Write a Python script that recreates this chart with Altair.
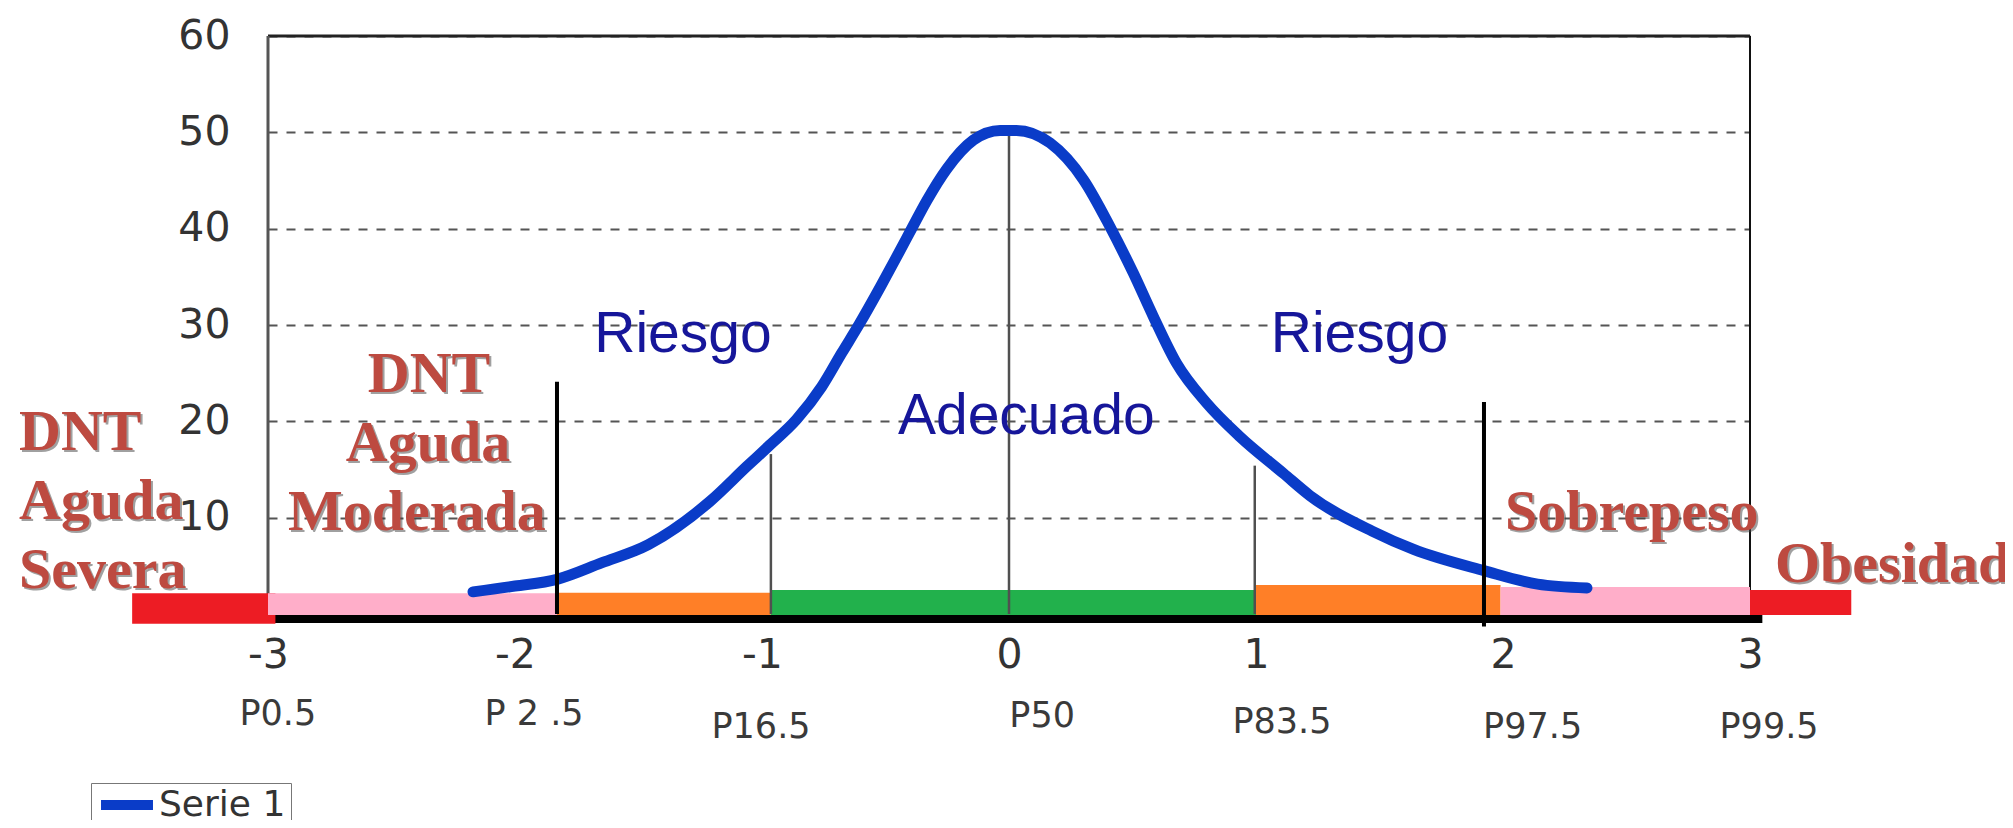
import altair as alt
import pandas as pd

# ---------------- data ----------------
z_ticks = [-3, -2, -1, 0, 1, 2, 3]
y_ticks = [10, 20, 30, 40, 50, 60]

# curve
curve_z = [-2.17, -2.0, -1.83, -1.65, -1.46, -1.21, -1.062, -0.974, -0.86, -0.758,
           -0.677, -0.606, -0.52, -0.448, -0.394, -0.333, -0.252, -0.144, -0.036, 0.03,
           0.166, 0.301, 0.409, 0.503, 0.584, 0.679, 0.80, 0.935, 1.111, 1.218,
           1.47, 1.638, 1.923, 2.14, 2.34]
curve_y = [2.3, 2.9, 3.6, 5.3, 7.2, 11.7, 15.3, 17.4, 20.2, 23.6,
           27.1, 30.1, 34.0, 37.4, 40.0, 42.9, 46.2, 49.2, 50.2, 50.2,
           48.9, 45.1, 40.2, 35.4, 30.9, 26.0, 21.9, 18.4, 14.6, 12.3,
           8.6, 6.7, 4.5, 3.1, 2.7]

# coloured zones along the axis
zone_names = ["DNT Aguda Severa (izq)", "DNT Aguda Moderada", "Riesgo (izq)", "Adecuado",
              "Riesgo (der)", "Sobrepeso", "Obesidad"]
zone_start = [-3.55, -3.0, -1.83, -0.965, 1.0, 1.99, 3.0]
zone_end = [-2.97, -1.83, -0.965, 1.0, 1.99, 3.0, 3.41]
zone_low = [-1.0, -0.1, -0.1, -0.1, -0.1, -0.1, -0.1]
zone_high = [2.15, 2.15, 2.2, 2.5, 3.0, 2.8, 2.5]
zone_colors = ["#ED1C24", "#FFAEC9", "#FF7F27", "#22B14C", "#FF7F27", "#FFAEC9", "#ED1C24"]

# cut-off lines
thin_z = [-0.964, 0.0, 0.995]
thin_top = [16.6, 49.8, 15.4]
thick_z = [-1.83, 1.923]
thick_low = [0.0, -1.3]
thick_top = [24.1, 22.0]

# percentile labels under the axis
pct_labels = ["P0.5", "P 2 .5", "P16.5", "P50", "P83.5", "P97.5", "P99.5"]
pct_z = [-2.96, -1.923, -1.004, 0.134, 1.105, 2.12, 3.077]
pct_y = [-11.5, -11.5, -12.9, -11.7, -12.35, -12.9, -12.9]

# blue annotations
blue_text = ["Riesgo", "Riesgo", "Adecuado"]
blue_z = [-1.32, 1.419, 0.07]
blue_y = [27.2, 27.2, 18.65]

# red serif annotations, left aligned
red_left_text = ["DNT", "Aguda", "Severa", "Sobrepeso", "Obesidad"]
red_left_z = [-4.008, -4.008, -4.008, 2.008, 3.101]
red_left_y = [17.0, 9.86, 2.7, 8.72, 3.32]

# red serif annotations, centred
red_c_text = ["DNT", "Aguda", "Moderada"]
red_c_z = [-2.348, -2.352, -2.397]
red_c_y = [23.05, 15.88, 8.72]

# frame
frame_top = [60]
frame_sides = [-3, 3]

serie_name = ["Serie 1"]

# ---------------- chart ----------------
xscale = alt.Scale(domain=[-3, 3], nice=False, zero=False)
yscale = alt.Scale(domain=[0, 60], nice=False, zero=False)
xaxis = alt.Axis(values=z_ticks, title=None, domain=False, ticks=False, grid=False,
                 labelFont="DejaVu Sans", labelFontSize=41, labelColor="#333333",
                 labelPadding=21, labelFlush=False, labelExpr="'' + datum.value")
yaxis = alt.Axis(values=y_ticks, title=None, domain=False, ticks=False, grid=True,
                 gridDash=[9, 9], gridColor="#555555", gridWidth=2,
                 labelFont="DejaVu Sans", labelFontSize=41, labelColor="#333333",
                 labelPadding=38, labelFlush=False)


def X(field, **kw):
    return alt.X(field, type="quantitative", scale=xscale, axis=xaxis, **kw)


def Y(field, **kw):
    return alt.Y(field, type="quantitative", scale=yscale, axis=yaxis, **kw)


curve_df = pd.DataFrame({"z": curve_z, "v": curve_y, "serie": serie_name * len(curve_z)})
zone_df = pd.DataFrame({"zona": zone_names, "z0": zone_start, "z1": zone_end,
                        "lo": zone_low, "hi": zone_high})
thin_df = pd.DataFrame({"z": thin_z, "lo": [0.0] * 3, "hi": thin_top})
thick_df = pd.DataFrame({"z": thick_z, "lo": thick_low, "hi": thick_top})
pct_df = pd.DataFrame({"t": pct_labels, "z": pct_z, "v": pct_y})
blue_df = pd.DataFrame({"t": blue_text, "z": blue_z, "v": blue_y})
redl_df = pd.DataFrame({"t": red_left_text, "z": red_left_z, "v": red_left_y})
redc_df = pd.DataFrame({"t": red_c_text, "z": red_c_z, "v": red_c_y})
top_df = pd.DataFrame({"z0": [-3], "z1": [3], "v": frame_top})
side_df = pd.DataFrame({"z": frame_sides, "lo": [0, 0], "hi": [60, 60]})
bottom_df = pd.DataFrame({"z0": [-3], "z1": [3.05], "v": [-0.52]})

# grid / axes carrier (invisible points)
base = alt.Chart(pd.DataFrame({"z": [-3, 3], "v": [0, 60]})).mark_point(opacity=0).encode(
    x=X("z"), y=Y("v"))

top_rule = alt.Chart(top_df).mark_rule(color="#222222", strokeWidth=3).encode(
    x=X("z0"), x2="z1", y=Y("v"))
left_rule = alt.Chart(side_df.iloc[[0]]).mark_rule(color="#555555", strokeWidth=3).encode(
    x=X("z"), y=Y("lo"), y2="hi")
right_rule = alt.Chart(side_df.iloc[[1]]).mark_rule(color="#111111", strokeWidth=2).encode(
    x=X("z"), y=Y("lo"), y2="hi")
bottom_rule = alt.Chart(bottom_df).mark_rule(color="#000000", strokeWidth=8).encode(
    x=X("z0"), x2="z1", y=Y("v"))

zones = alt.Chart(zone_df).mark_rect().encode(
    x=X("z0"), x2="z1", y=Y("lo"), y2="hi",
    color=alt.Color("zona:N", scale=alt.Scale(domain=zone_names, range=zone_colors), legend=None))

thin = alt.Chart(thin_df).mark_rule(color="#505050", strokeWidth=2.5).encode(
    x=X("z"), y=Y("lo"), y2="hi")

curve = alt.Chart(curve_df).mark_line(strokeWidth=11, strokeCap="round", strokeJoin="round",
                                      interpolate="monotone").encode(
    x=X("z"), y=Y("v"),
    color=alt.Color("serie:N", scale=alt.Scale(domain=serie_name, range=["#0A3CC8"]),
                    legend=alt.Legend(title=None, orient="none", legendX=-177, legendY=747,
                                      symbolType="stroke", symbolStrokeWidth=10, symbolSize=2700,
                                      clipHeight=34,
                                      labelFont="DejaVu Sans", labelFontSize=36,
                                      labelColor="#333333", labelOffset=1,
                                      strokeColor="#777777", padding=5, fillColor="white")))

thick = alt.Chart(thick_df).mark_rule(color="#000000", strokeWidth=4).encode(
    x=X("z"), y=Y("lo"), y2="hi")

pct = alt.Chart(pct_df).mark_text(font="DejaVu Sans", fontSize=35, color="#3a3a3a",
                                  align="center", baseline="alphabetic").encode(
    x=X("z"), y=Y("v"), text="t:N")

blue = alt.Chart(blue_df).mark_text(font="Liberation Sans", fontSize=57, color="#16169A",
                                    align="center", baseline="alphabetic").encode(
    x=X("z"), y=Y("v"), text="t:N")

serif = dict(font="Liberation Serif", fontWeight="bold", fontSize=58, baseline="alphabetic")
redl_sh = alt.Chart(redl_df).mark_text(align="left", color="#444444", opacity=0.5, dx=2, dy=2,
                                       **serif).encode(x=X("z"), y=Y("v"), text="t:N")
redl = alt.Chart(redl_df).mark_text(align="left", color="#BD4A40", **serif).encode(
    x=X("z"), y=Y("v"), text="t:N")
redc_sh = alt.Chart(redc_df).mark_text(align="center", color="#444444", opacity=0.5, dx=2, dy=2,
                                       **serif).encode(x=X("z"), y=Y("v"), text="t:N")
redc = alt.Chart(redc_df).mark_text(align="center", color="#BD4A40", **serif).encode(
    x=X("z"), y=Y("v"), text="t:N")

chart = alt.layer(
    base, top_rule, left_rule, right_rule, bottom_rule, zones, thin, curve, thick,
    pct, blue, redl_sh, redl, redc_sh, redc
).resolve_scale(color="independent").properties(
    width=1482, height=578,
    padding={"left": 260, "top": 28, "right": 255, "bottom": 206},
    autosize=alt.AutoSizeParams(type="none"),
    background="white",
).configure_view(stroke=None)

chart.save("out.html", embed_options={"renderer": "svg", "actions": False})
